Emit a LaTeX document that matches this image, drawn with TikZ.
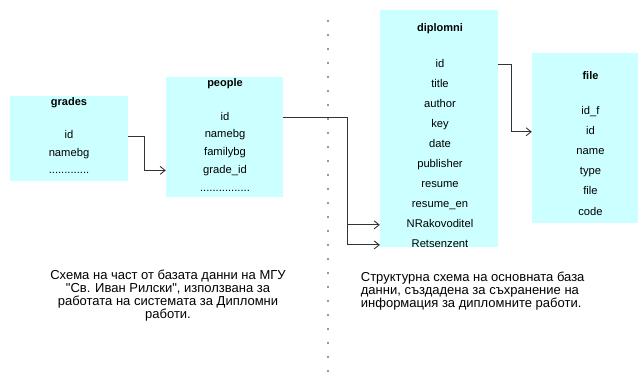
\documentclass[tikz,border=0pt]{standalone}
\usepackage{fontspec}
\setmainfont{Liberation Sans}
\usetikzlibrary{positioning,arrows.meta}
\definecolor{tablecyan}{HTML}{CCFFFF}
\definecolor{linegray}{HTML}{333333}
\definecolor{dotgray}{HTML}{999999}

\begin{document}
\begin{tikzpicture}
    [x=1pt, y=-1pt,
    >={Straight Barb[length=5pt,width=8pt]},
    table/.style={
      rectangle,
      fill=tablecyan,
      inner sep=0pt},
    title/.style={
      font=\fontsize{11}{12}\selectfont\bfseries,
      inner sep=0pt,
      text height=8.5pt,
      text depth=2.5pt},
    field/.style={
      font=\fontsize{11.2}{12}\selectfont,
      inner sep=0pt,
      text height=8.5pt,
      text depth=2.5pt},
    caption/.style={
      font=\fontsize{13}{13}\selectfont,
      inner sep=0pt},
    link/.style={
      ->,
      draw=linegray,
      line width=0.9pt}
    ]
    \useasboundingbox (0,0) rectangle (638,374);
    % tables
    \node (grades) [table, minimum width=118pt, minimum height=85pt] at (69,138.5) {};
    \node (people) [table, minimum width=117pt, minimum height=120pt] at (224.5,137) {};
    \node (diplomni) [table, minimum width=117.5pt, minimum height=237pt] at (438.8,128.5) {};
    \node (file) [table, minimum width=106pt, minimum height=170pt] at (585,138) {};
    % grades
    \node (grades-title) [title] at (69,102.3) {grades};
    \node (grades-id) [field] at (69,136) {id};
    \node (grades-namebg) [field, below=6pt of grades-id] {namebg};
    \node (grades-more) [field, below=6pt of grades-namebg] {.............};
    % people
    \node (people-title) [title] at (225,84) {people};
    \node (people-id) [field] at (225,117.3) {id};
    \node (people-namebg) [field, below=6.3pt of people-id] {namebg};
    \node (people-familybg) [field, below=6.3pt of people-namebg] {familybg};
    \node (people-gradeid) [field, below=6.3pt of people-familybg] {grade\_id};
    \node (people-more) [field, below=6.3pt of people-gradeid] {................};
    % diplomni
    \node (dipl-title) [title] at (440,29) {diplomni};
    \node (dipl-id) [field] at (440,64.3) {id};
    \node (dipl-title2) [field, below=8.67pt of dipl-id] {title};
    \node (dipl-author) [field, below=8.67pt of dipl-title2] {author};
    \node (dipl-key) [field, below=8.67pt of dipl-author] {key};
    \node (dipl-date) [field, below=8.67pt of dipl-key] {date};
    \node (dipl-publisher) [field, below=8.67pt of dipl-date] {publisher};
    \node (dipl-resume) [field, below=8.67pt of dipl-publisher] {resume};
    \node (dipl-resumeen) [field, below=8.67pt of dipl-resume] {resume\_en};
    \node (dipl-nrak) [field, below=8.67pt of dipl-resumeen] {NRakovoditel};
    \node (dipl-rets) [field, below=8.67pt of dipl-nrak] {Retsenzent};
    % file
    \node (file-title) [title] at (590.5,76.7) {file};
    \node (file-idf) [field] at (590.5,111.7) {id\_f};
    \node (file-id) [field, below=8.67pt of file-idf] {id};
    \node (file-name) [field, below=8.67pt of file-id] {name};
    \node (file-type) [field, below=8.67pt of file-name] {type};
    \node (file-file) [field, below=8.67pt of file-type] {file};
    \node (file-code) [field, below=8.67pt of file-file] {code};
    % links
    \draw[link] (grades.east |- grades-id) -- ++(16,0) |- (people.west |- people-gradeid);
    \draw[link] (people.east |- people-id) -- ++(64,0) |- (diplomni.west |- dipl-nrak);
    \draw[link] (people.east |- people-id) -- ++(64,0) |- (diplomni.west |- dipl-rets);
    \draw[link] (diplomni.east |- dipl-id) -- ++(14,0) |- (file.west |- file-id);
    % separator
    \draw[dotgray, line width=1.5pt, dash pattern=on 1.5pt off 12.5pt] (328,20.5) -- (328,373);
    % captions
    \node (left-caption) [caption, align=center] at (168,295.5)
      {Схема на част от базата данни на МГУ\\
       \textquotedbl Св. Иван Рилски\textquotedbl, използвана за\\
       работата на системата за Дипломни\\
       работи.};
    \node (right-caption) [caption, align=left, anchor=west] at (360.7,291.2)
      {Структурна схема на основната база\\
       данни, създадена за съхранение на\\
       информация за дипломните работи.};
\end{tikzpicture}
\end{document}
